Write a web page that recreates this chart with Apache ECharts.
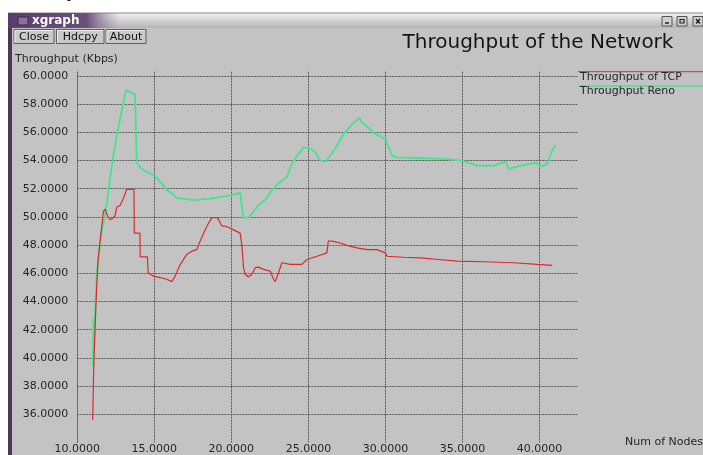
<!DOCTYPE html>
<html>
<head>
<meta charset="utf-8">
<script src="https://cdn.jsdelivr.net/npm/echarts@6/dist/echarts.min.js"></script>
<style>
  html, body { margin: 0; padding: 0; background: #ffffff; }
  #chart { width: 703px; height: 455px; }
</style>
</head>
<body>
<div id="chart"></div>
<script>
// ---- data ----
const seriesNames = ['Throughput of TCP', 'Throughput Reno'];

const tcpX = [11.0, 11.05, 11.1, 11.2, 11.3, 11.36, 11.5, 11.7, 11.8, 11.95, 12.12, 12.3, 12.45, 12.56, 12.77, 12.99, 13.2, 13.68, 13.7, 14.07, 14.08, 14.55, 14.6, 14.94, 15.37, 15.8, 16.13, 16.35, 16.67, 17.1, 17.43, 17.76, 17.97, 18.4, 18.73, 19.1, 19.38, 19.7, 20.14, 20.57, 20.68, 20.79, 20.9, 21.1, 21.33, 21.55, 21.76, 22.09, 22.52, 22.74, 22.85, 23.06, 23.28, 23.82, 24.26, 24.58, 24.9, 25.56, 26.2, 26.3, 26.63, 27.07, 27.5, 28.16, 28.8, 29.45, 30.0, 30.1, 31.18, 32.27, 33.46, 34.65, 36.38, 38.33, 39.85, 40.82];
const tcpY = [35.6, 38.4, 40.5, 43.5, 46.0, 47.1, 48.5, 50.4, 50.55, 50.1, 49.8, 49.9, 50.1, 50.7, 50.8, 51.3, 51.95, 51.95, 48.85, 48.85, 47.17, 47.17, 46.04, 45.8, 45.7, 45.58, 45.41, 45.8, 46.6, 47.33, 47.57, 47.68, 48.27, 49.32, 49.95, 49.95, 49.36, 49.32, 49.08, 48.85, 48.03, 46.4, 45.93, 45.74, 45.93, 46.4, 46.44, 46.28, 46.16, 45.58, 45.41, 46.04, 46.75, 46.63, 46.63, 46.63, 46.98, 47.21, 47.45, 48.31, 48.27, 48.15, 47.98, 47.8, 47.68, 47.68, 47.45, 47.21, 47.14, 47.1, 46.98, 46.86, 46.82, 46.75, 46.63, 46.56];

const renoX = [11.02, 11.05, 11.1, 11.2, 11.26, 11.58, 11.8, 11.9, 12.12, 12.34, 12.56, 12.77, 12.99, 13.16, 13.31, 13.75, 13.86, 14.18, 14.5, 15.05, 15.59, 15.81, 16.02, 16.46, 17.54, 18.62, 19.7, 20.36, 20.57, 20.68, 20.79, 21.1, 21.22, 21.44, 21.76, 21.87, 22.3, 22.63, 23.17, 23.6, 23.93, 24.26, 24.69, 25.12, 25.45, 25.77, 26.1, 26.42, 26.85, 27.28, 27.83, 28.32, 28.48, 28.91, 29.23, 30.0, 30.43, 30.75, 32.05, 33.78, 34.98, 35.95, 37.03, 37.79, 38.0, 38.77, 39.74, 40.18, 40.5, 40.82, 41.04];
const renoY = [39.4, 42.8, 40.6, 44.5, 45.93, 48.97, 50.1, 50.83, 52.7, 54.34, 55.74, 56.9, 58.08, 59.0, 58.9, 58.7, 53.88, 53.4, 53.2, 52.9, 52.24, 51.89, 51.77, 51.35, 51.19, 51.3, 51.49, 51.65, 51.73, 50.72, 49.95, 49.95, 50.02, 50.37, 50.83, 50.95, 51.3, 51.89, 52.48, 52.83, 53.76, 54.34, 54.93, 54.86, 54.58, 53.99, 53.92, 54.34, 55.04, 55.86, 56.56, 57.03, 56.68, 56.33, 55.98, 55.51, 54.34, 54.23, 54.18, 54.11, 53.99, 53.64, 53.64, 53.92, 53.41, 53.64, 53.83, 53.6, 53.76, 54.69, 55.09];

const xTicks = [10, 15, 20, 25, 30, 35, 40];
const yTicks = [36, 38, 40, 42, 44, 46, 48, 50, 52, 54, 56, 58, 60];

const titleText = 'Throughput of the Network';
const yAxisName = 'Throughput (Kbps)';
const xAxisName = 'Num of Nodes';
const windowName = 'xgraph';
const buttonLabels = ['Close', 'Hdcpy', 'About'];

// ---- styling ----
const FONT = 'DejaVu Sans';
const TEXT = '#262626';
const WIN_BG = '#c3c3c3';
const RED = '#dc2a2a';
const GREEN = '#42e48e';
const GRID_LINE = '#5a5a5a';
const GRID_STYLE = { color: GRID_LINE, type: [2, 1], width: 1 };

function pairs(xs, ys) { return xs.map((x, i) => [x, ys[i]]); }
// only the listed tick values get a label
function tickLabel(list) {
  return v => list.some(t => Math.abs(t - v) < 1e-6) ? v.toFixed(4) : '';
}

// window chrome: title bar, border and push buttons
const chrome = [];
chrome.push({ type: 'rect', shape: { x: 0, y: 0, width: 703, height: 13 }, style: { fill: '#ffffff' }, silent: true });
chrome.push({ type: 'rect', shape: { x: 0, y: 0, width: 8, height: 455 }, style: { fill: '#ffffff' }, silent: true });
chrome.push({ type: 'text', style: { x: 66, y: 1, text: 'y', font: '18px ' + FONT, fill: '#111', verticalAlign: 'bottom' }, silent: true });
// title bar
chrome.push({ type: 'rect', shape: { x: 8, y: 13, width: 695, height: 15 },
  style: { fill: new echarts.graphic.LinearGradient(0, 0, 0, 1, [
    { offset: 0, color: '#f2f2f2' }, { offset: 1, color: '#b4b4b4' }]) }, silent: true });
chrome.push({ type: 'line', shape: { x1: 8, y1: 13, x2: 703, y2: 13 }, style: { stroke: '#8a8a8a', lineWidth: 1 }, silent: true });
chrome.push({ type: 'rect', shape: { x: 8, y: 13, width: 112, height: 15 },
  style: { fill: new echarts.graphic.LinearGradient(0, 0, 1, 0, [
    { offset: 0, color: '#5a3d6c' }, { offset: 0.7, color: '#6a4f7c' }, { offset: 1, color: 'rgba(150,130,160,0)' }]) }, silent: true });
chrome.push({ type: 'rect', shape: { x: 18, y: 17, width: 10, height: 8 }, style: { fill: '#8a6fa0', stroke: '#3e2a4c', lineWidth: 1 }, silent: true });
chrome.push({ type: 'text', style: { x: 32, y: 21, text: windowName, font: 'bold 12px ' + FONT, fill: '#ffffff', verticalAlign: 'middle' }, silent: true });
// window control boxes
[662, 677, 693].forEach((bx, i) => {
  chrome.push({ type: 'rect', shape: { x: bx, y: 16.5, width: 10, height: 9.5 }, style: { fill: '#cfcfcf', stroke: '#555', lineWidth: 1 }, silent: true });
  if (i === 0) chrome.push({ type: 'line', shape: { x1: bx + 3, y1: 23, x2: bx + 7, y2: 23 }, style: { stroke: '#222', lineWidth: 1.5 }, silent: true });
  if (i === 1) chrome.push({ type: 'rect', shape: { x: bx + 3, y: 19.5, width: 4, height: 3.5 }, style: { fill: 'none', stroke: '#222', lineWidth: 1.2 }, silent: true });
  if (i === 2) {
    chrome.push({ type: 'line', shape: { x1: bx + 3, y1: 19, x2: bx + 7, y2: 23.5 }, style: { stroke: '#222', lineWidth: 1.4 }, silent: true });
    chrome.push({ type: 'line', shape: { x1: bx + 7, y1: 19, x2: bx + 3, y2: 23.5 }, style: { stroke: '#222', lineWidth: 1.4 }, silent: true });
  }
});
// left frame border
chrome.push({ type: 'rect', shape: { x: 8, y: 28, width: 4, height: 427 }, style: { fill: '#483a50' }, silent: true });
// push buttons
const buttonBoxes = [[14, 40], [56.5, 47.5], [106, 40]];
buttonLabels.forEach((label, i) => {
  const [bx, bw] = buttonBoxes[i];
  chrome.push({ type: 'rect', shape: { x: bx, y: 29.5, width: bw, height: 14 }, style: { fill: '#c9c9c9', stroke: '#5e5e5e', lineWidth: 1 }, silent: true });
  chrome.push({ type: 'polyline', shape: { points: [[bx + 1, 42.5], [bx + 1, 30.5], [bx + bw - 1, 30.5]] }, style: { stroke: '#eeeeee', lineWidth: 1 }, silent: true });
  chrome.push({ type: 'text', style: { x: bx + bw / 2, y: 36.8, text: label, font: '11px ' + FONT, fill: '#111', align: 'center', verticalAlign: 'middle' }, silent: true });
});
// headings
chrome.push({ type: 'text', style: { x: 538, y: 43, text: titleText, font: '20px ' + FONT, fill: '#141414', align: 'center', verticalAlign: 'middle' }, silent: true });
chrome.push({ type: 'text', style: { x: 15, y: 59, text: yAxisName, font: '11px ' + FONT, fill: TEXT, verticalAlign: 'middle' }, silent: true });
chrome.push({ type: 'text', style: { x: 625, y: 442, text: xAxisName, font: '11px ' + FONT, fill: TEXT, verticalAlign: 'middle' }, silent: true });
// legend: a coloured rule above each name
const legendColors = [RED, GREEN];
const legendRuleY = [71.7, 86];
seriesNames.forEach((name, i) => {
  chrome.push({ type: 'line', shape: { x1: 578, y1: legendRuleY[i], x2: 703, y2: legendRuleY[i] }, style: { stroke: legendColors[i], lineWidth: i ? 1.5 : 1 }, silent: true });
  chrome.push({ type: 'text', style: { x: 580, y: legendRuleY[i] + 5, text: name, font: '11px ' + FONT, fill: TEXT, verticalAlign: 'middle' }, silent: true });
});

const chart = echarts.init(document.getElementById('chart'), null, { renderer: 'canvas' });
chart.setOption({
  backgroundColor: WIN_BG,
  animation: false,
  grid: { left: 77.3, right: 125, top: 71.7, bottom: 8.2, containLabel: false },
  xAxis: {
    type: 'value',
    min: 10, max: 42.5, interval: 5,
    axisLine: { show: false },
    axisTick: { show: false },
    axisLabel: {
      margin: 1.5,
      formatter: tickLabel(xTicks),
      fontFamily: FONT, fontSize: 11, color: TEXT
    },
    splitLine: { show: true, showMinLine: true, showMaxLine: false, lineStyle: GRID_STYLE }
  },
  yAxis: {
    type: 'value',
    min: 34, max: 60.3, interval: 2,
    axisLine: { show: false },
    axisTick: { show: false },
    axisLabel: {
      margin: 9,
      formatter: tickLabel(yTicks),
      fontFamily: FONT, fontSize: 11, color: TEXT
    },
    splitLine: { show: true, showMinLine: false, showMaxLine: false, lineStyle: GRID_STYLE }
  },
  series: [
    {
      name: seriesNames[1], type: 'line', data: pairs(renoX, renoY),
      showSymbol: false, symbol: 'none',
      lineStyle: { color: GREEN, width: 1.8 }, z: 3,
      // left-hand grid rule at the first x tick
      markLine: {
        silent: true, symbol: 'none', label: { show: false },
        lineStyle: GRID_STYLE, z: 1,
        data: [{ xAxis: xTicks[0] }]
      }
    },
    {
      name: seriesNames[0], type: 'line', data: pairs(tcpX, tcpY),
      showSymbol: false, symbol: 'none',
      lineStyle: { color: RED, width: 1.2 }, z: 4
    }
  ],
  graphic: chrome
});
</script>
</body>
</html>
